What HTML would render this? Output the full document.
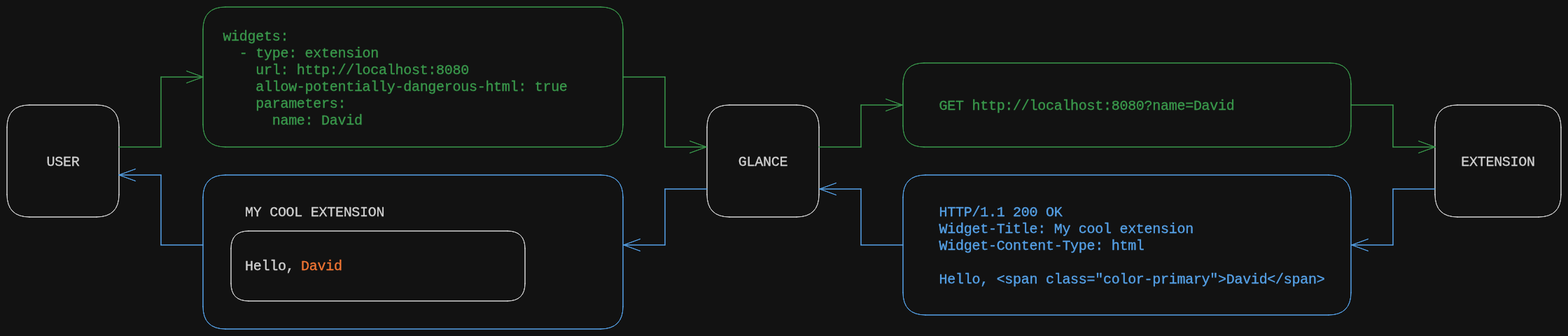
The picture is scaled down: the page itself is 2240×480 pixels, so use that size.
<!DOCTYPE html>
<html lang="en">
<head>
<meta charset="utf-8">
<title>Glance extension flow</title>
<style>
html, body { margin: 0; padding: 0; background: #121212; }
body { width: 2240px; height: 480px; overflow: hidden; }
svg { display: block; will-change: transform; }
path { fill: none; stroke-width: 1px; stroke-linecap: round; }
text { font-family: "Liberation Mono", "DejaVu Sans Mono", monospace; font-size: 20px; letter-spacing: -0.2832px; white-space: pre; font-variant-ligatures: none; font-kerning: none; stroke-width: 0.33px; stroke-linejoin: round; }
text.caps { font-size: 20px; letter-spacing: -0.2832px; stroke-width: 0.28px; stroke-linejoin: round; }
</style>
</head>
<body>
<svg width="2240" height="480" viewBox="0 0 2240 480">
<g class="shapes">
<path d="M42 150 L138 150 M42 150 L138 150 M138 150 Q170 150 170 182 M138 150 Q170 150 170 182 M170 182 L170 278 M170 182 L170 278 M170 278 Q170 310 138 310 M170 278 Q170 310 138 310 M138 310 L42 310 M138 310 L42 310 M42 310 Q10 310 10 278 M42 310 Q10 310 10 278 M10 278 L10 182 M10 278 L10 182 M10 182 Q10 150 42 150 M10 182 Q10 150 42 150" stroke="#d3d3d3"/>
<path d="M1042 150 L1138 150 M1042 150 L1138 150 M1138 150 Q1170 150 1170 182 M1138 150 Q1170 150 1170 182 M1170 182 L1170 278 M1170 182 L1170 278 M1170 278 Q1170 310 1138 310 M1170 278 Q1170 310 1138 310 M1138 310 L1042 310 M1138 310 L1042 310 M1042 310 Q1010 310 1010 278 M1042 310 Q1010 310 1010 278 M1010 278 L1010 182 M1010 278 L1010 182 M1010 182 Q1010 150 1042 150 M1010 182 Q1010 150 1042 150" stroke="#d3d3d3"/>
<path d="M2082 150 L2198 150 M2082 150 L2198 150 M2198 150 Q2230 150 2230 182 M2198 150 Q2230 150 2230 182 M2230 182 L2230 278 M2230 182 L2230 278 M2230 278 Q2230 310 2198 310 M2230 278 Q2230 310 2198 310 M2198 310 L2082 310 M2198 310 L2082 310 M2082 310 Q2050 310 2050 278 M2082 310 Q2050 310 2050 278 M2050 278 L2050 182 M2050 278 L2050 182 M2050 182 Q2050 150 2082 150 M2050 182 Q2050 150 2082 150" stroke="#d3d3d3"/>
<path d="M322 10 L858 10 M322 10 L858 10 M858 10 Q890 10 890 42 M858 10 Q890 10 890 42 M890 42 L890 178 M890 42 L890 178 M890 178 Q890 210 858 210 M890 178 Q890 210 858 210 M858 210 L322 210 M858 210 L322 210 M322 210 Q290 210 290 178 M322 210 Q290 210 290 178 M290 178 L290 42 M290 178 L290 42 M290 42 Q290 10 322 10 M290 42 Q290 10 322 10" stroke="#3a994c"/>
<path d="M322 250 L858 250 M322 250 L858 250 M858 250 Q890 250 890 282 M858 250 Q890 250 890 282 M890 282 L890 438 M890 282 L890 438 M890 438 Q890 470 858 470 M890 438 Q890 470 858 470 M858 470 L322 470 M858 470 L322 470 M322 470 Q290 470 290 438 M322 470 Q290 470 290 438 M290 438 L290 282 M290 438 L290 282 M290 282 Q290 250 322 250 M290 282 Q290 250 322 250" stroke="#56a2e8"/>
<path d="M355 330 L725 330 M355 330 L725 330 M725 330 Q750 330 750 355 M725 330 Q750 330 750 355 M750 355 L750 405 M750 355 L750 405 M750 405 Q750 430 725 430 M750 405 Q750 430 725 430 M725 430 L355 430 M725 430 L355 430 M355 430 Q330 430 330 405 M355 430 Q330 430 330 405 M330 405 L330 355 M330 405 L330 355 M330 355 Q330 330 355 330 M330 355 Q330 330 355 330" stroke="#d3d3d3"/>
<path d="M1320 90 L1900 90 M1320 90 L1900 90 M1900 90 Q1930 90 1930 120 M1900 90 Q1930 90 1930 120 M1930 120 L1930 180 M1930 120 L1930 180 M1930 180 Q1930 210 1900 210 M1930 180 Q1930 210 1900 210 M1900 210 L1320 210 M1900 210 L1320 210 M1320 210 Q1290 210 1290 180 M1320 210 Q1290 210 1290 180 M1290 180 L1290 120 M1290 180 L1290 120 M1290 120 Q1290 90 1320 90 M1290 120 Q1290 90 1320 90" stroke="#3a994c"/>
<path d="M1322 250 L1898 250 M1322 250 L1898 250 M1898 250 Q1930 250 1930 282 M1898 250 Q1930 250 1930 282 M1930 282 L1930 418 M1930 282 L1930 418 M1930 418 Q1930 450 1898 450 M1930 418 Q1930 450 1898 450 M1898 450 L1322 450 M1898 450 L1322 450 M1322 450 Q1290 450 1290 418 M1322 450 Q1290 450 1290 418 M1290 418 L1290 282 M1290 418 L1290 282 M1290 282 Q1290 250 1322 250 M1290 282 Q1290 250 1322 250" stroke="#56a2e8"/>
<path d="M170 210 L230 210 M170 210 L230 210 M230 210 L230 110 M230 210 L230 110 M230 110 L290 110 M230 110 L290 110" stroke="#3a994c"/><path d="M266.51 101.45 L290 110 M266.51 101.45 L290 110" stroke="#3a994c"/><path d="M266.51 118.55 L290 110 M266.51 118.55 L290 110" stroke="#3a994c"/>
<path d="M890 110 L950 110 M890 110 L950 110 M950 110 L950 210 M950 110 L950 210 M950 210 L1009 210 M950 210 L1009 210" stroke="#3a994c"/><path d="M985.51 201.45 L1009 210 M985.51 201.45 L1009 210" stroke="#3a994c"/><path d="M985.51 218.55 L1009 210 M985.51 218.55 L1009 210" stroke="#3a994c"/>
<path d="M1010 270 L950 270 M1010 270 L950 270 M950 270 L950 350 M950 270 L950 350 M950 350 L891 350 M950 350 L891 350" stroke="#56a2e8"/><path d="M914.49 341.45 L891 350 M914.49 341.45 L891 350" stroke="#56a2e8"/><path d="M914.49 358.55 L891 350 M914.49 358.55 L891 350" stroke="#56a2e8"/>
<path d="M290 350 L230 350 M290 350 L230 350 M230 350 L230 250 M230 350 L230 250 M230 250 L170 250 M230 250 L170 250" stroke="#56a2e8"/><path d="M193.49 241.45 L170 250 M193.49 241.45 L170 250" stroke="#56a2e8"/><path d="M193.49 258.55 L170 250 M193.49 258.55 L170 250" stroke="#56a2e8"/>
<path d="M1170 210 L1230 210 M1170 210 L1230 210 M1230 210 L1230 150 M1230 210 L1230 150 M1230 150 L1289 150 M1230 150 L1289 150" stroke="#3a994c"/><path d="M1265.51 141.45 L1289 150 M1265.51 141.45 L1289 150" stroke="#3a994c"/><path d="M1265.51 158.55 L1289 150 M1265.51 158.55 L1289 150" stroke="#3a994c"/>
<path d="M1930 150 L1990 150 M1930 150 L1990 150 M1990 150 L1990 210 M1990 150 L1990 210 M1990 210 L2050 210 M1990 210 L2050 210" stroke="#3a994c"/><path d="M2026.51 201.45 L2050 210 M2026.51 201.45 L2050 210" stroke="#3a994c"/><path d="M2026.51 218.55 L2050 210 M2026.51 218.55 L2050 210" stroke="#3a994c"/>
<path d="M2050 270 L1990 270 M2050 270 L1990 270 M1990 270 L1990 350 M1990 270 L1990 350 M1990 350 L1931 350 M1990 350 L1931 350" stroke="#56a2e8"/><path d="M1954.49 341.45 L1931 350 M1954.49 341.45 L1931 350" stroke="#56a2e8"/><path d="M1954.49 358.55 L1931 350 M1954.49 358.55 L1931 350" stroke="#56a2e8"/>
<path d="M1290 350 L1230 350 M1290 350 L1230 350 M1230 350 L1230 270 M1230 350 L1230 270 M1230 270 L1171 270 M1230 270 L1171 270" stroke="#56a2e8"/><path d="M1194.49 261.45 L1171 270 M1194.49 261.45 L1171 270" stroke="#56a2e8"/><path d="M1194.49 278.55 L1171 270 M1194.49 278.55 L1171 270" stroke="#56a2e8"/>
</g>
<g class="labels">
<text x="318.4" y="58" fill="#3a994c" stroke="#3a994c">widgets:</text>
<text x="318.4" y="82" fill="#3a994c" stroke="#3a994c">  - type: extension</text>
<text x="318.4" y="106" fill="#3a994c" stroke="#3a994c">    url: http://localhost:8080</text>
<text x="318.4" y="130" fill="#3a994c" stroke="#3a994c">    allow-potentially-dangerous-html: true</text>
<text x="318.4" y="154" fill="#3a994c" stroke="#3a994c">    parameters:</text>
<text x="318.4" y="178" fill="#3a994c" stroke="#3a994c">      name: David</text>
<text class="caps" x="66.56" y="237" fill="#d3d3d3" stroke="#d3d3d3">USER</text>
<text class="caps" x="1054.84" y="237" fill="#d3d3d3" stroke="#d3d3d3">GLANCE</text>
<text class="caps" x="2087.27" y="237" fill="#d3d3d3" stroke="#d3d3d3">EXTENSION</text>
<text class="caps" x="350" y="309" fill="#d3d3d3" stroke="#d3d3d3">MY COOL EXTENSION</text>
<text x="350" y="386" fill="#d3d3d3" stroke="#d3d3d3">Hello,</text>
<text x="430" y="386" fill="#f17634" stroke="#f17634">David</text>
<text x="1341.6" y="157" fill="#3a994c" stroke="#3a994c">GET http://localhost:8080?name=David</text>
<text x="1341.6" y="309" fill="#56a2e8" stroke="#56a2e8">HTTP/1.1 200 OK</text>
<text x="1341.6" y="333" fill="#56a2e8" stroke="#56a2e8">Widget-Title: My cool extension</text>
<text x="1341.6" y="357" fill="#56a2e8" stroke="#56a2e8">Widget-Content-Type: html</text>
<text x="1341.6" y="405" fill="#56a2e8" stroke="#56a2e8">Hello, &lt;span class="color-primary"&gt;David&lt;/span&gt;</text>
</g>
</svg>
</body>
</html>
